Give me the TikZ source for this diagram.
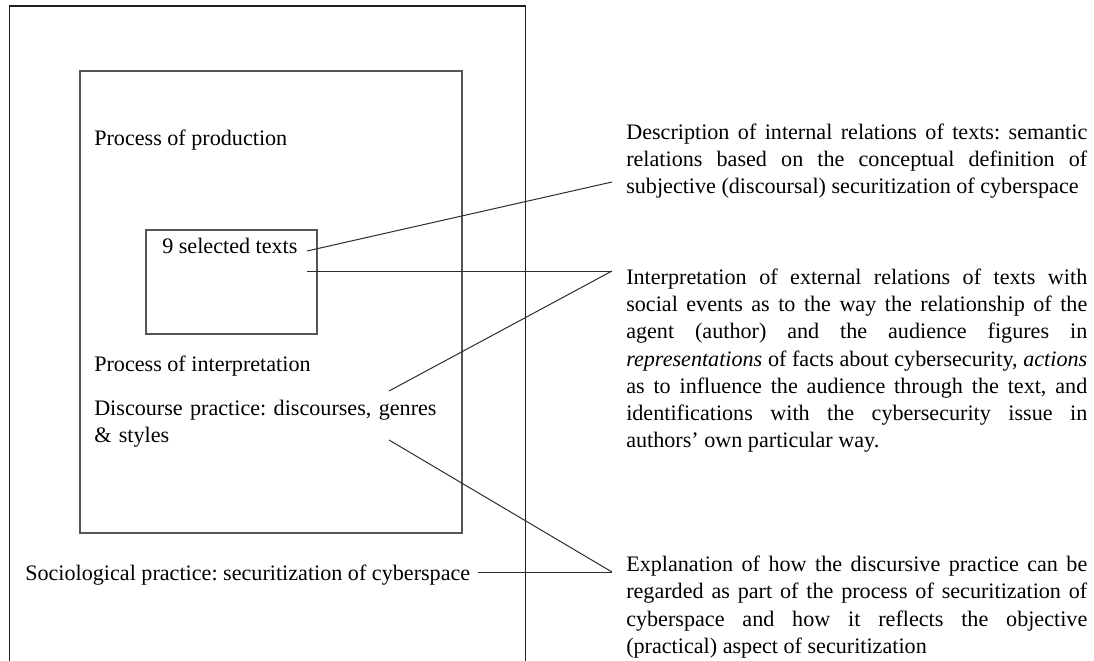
\documentclass[tikz,border=0pt]{standalone}
\usepackage{fontspec}
\setmainfont{Liberation Serif}
\definecolor{outerc}{RGB}{30,30,30}
\definecolor{boxc}{RGB}{85,85,85}
\definecolor{linec}{RGB}{45,45,45}
\tolerance=10000\relax
\hbadness=10000\relax
\frenchspacing
\begin{document}
\begin{tikzpicture}[x=0.75pt,y=-0.75pt,
  txt/.style={inner sep=0pt,anchor=base west,font=\fontsize{16.6pt}{20.4pt}\selectfont},
  block/.style={txt,text width=345.75pt,align=justify},
  outerbox/.style={draw=outerc,line width=0.8pt},
  framebox/.style={draw=boxc,line width=1.1pt},
  conn/.style={draw=linec,line width=0.75pt}]
\useasboundingbox (0,0) rectangle (1094,660);
\clip (0,0) rectangle (1094,660);
% boxes
\draw[outerbox] (9.5,6) rectangle (525.5,700);
\draw[framebox] (80,71) rectangle (462,533);
\draw[framebox] (146,230) rectangle (317,334);
% left texts
\node[txt] (prod) at (94,145.5) {Process of production};
\node[txt] (sel) at (162,253) {9 selected texts};
\node[txt] (pint) at (94,371) {Process of interpretation};
\node[txt,text width=300pt,align=left] (disc) at (94,415) {Discourse practice: discourses, genres\\ \& styles};
\node[txt] (soc) at (25,580) {Sociological practice: securitization of cyberspace};
% right texts
\node[block] (desc) at (626,139) {Description of internal relations of texts: semantic\linebreak
relations based on the conceptual definition of\linebreak
subjective (discoursal) securitization of cyberspace};
\node[block] (interp) at (626,284.5) {Interpretation of external relations of texts with\linebreak
social events as to the way the relationship of the\linebreak
agent (author) and the audience figures in\linebreak
\textit{representations} of facts about cybersecurity, \textit{actions}\linebreak
as to influence the audience through the text, and\linebreak
identifications with the cybersecurity issue in\linebreak
authors’ own particular way.};
\node[block] (expl) at (626,571.7) {Explanation of how the discursive practice can be\linebreak
regarded as part of the process of securitization of\linebreak
cyberspace and how it reflects the objective\linebreak
(practical) aspect of securitization};
% connector end points
\coordinate (selA) at (307,251);
\coordinate (selB) at (307,271);
\coordinate (discA) at (389,391);
\coordinate (discB) at (389,440);
\coordinate (socA) at (478,572);
\coordinate (descP) at (612,182);
\coordinate (interpP) at (612,271);
\coordinate (explP) at (612,572);
% connectors
\draw[conn] (selA) -- (descP);
\draw[conn] (selB) -- (interpP);
\draw[conn] (discA) -- (interpP);
\draw[conn] (discB) -- (explP);
\draw[conn] (socA) -- (explP);
\end{tikzpicture}
\end{document}
